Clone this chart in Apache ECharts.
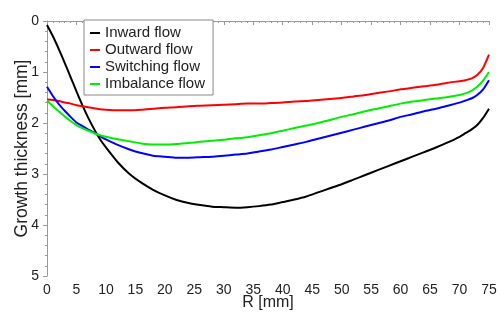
<!DOCTYPE html>
<html>
<head>
<meta charset="utf-8">
<script src="https://cdn.jsdelivr.net/npm/echarts@6/dist/echarts.min.js"></script>
<style>
  html, body { margin: 0; padding: 0; background: #fff; }
</style>
</head>
<body>
<!-- chart container, same size as the window -->
<div id="main" style="width: 500px;height:313px;"></div>
<script>
// R positions [mm] shared by every curve
var rValues = [0, 1, 2, 3, 4, 5, 6, 7, 8, 9, 10, 12, 14, 16, 18, 20, 22, 24, 26, 28, 30,
  32, 34, 36, 38, 40, 42, 44, 46, 48, 50, 52, 54, 56, 58, 60, 62, 64, 66, 68, 70, 71, 72, 73, 74, 75];

// growth thickness [mm]
var inwardFlow = [0.08, 0.3, 0.55, 0.82, 1.1, 1.38, 1.65, 1.9, 2.12, 2.32, 2.48, 2.77, 3.0, 3.17, 3.31, 3.42,
  3.51, 3.57, 3.61, 3.64, 3.65, 3.66, 3.65, 3.63, 3.6, 3.55, 3.5, 3.44, 3.36, 3.28, 3.2, 3.11, 3.02, 2.93,
  2.84, 2.75, 2.66, 2.57, 2.48, 2.38, 2.27, 2.2, 2.13, 2.04, 1.9, 1.72];
var outwardFlow = [1.54, 1.55, 1.57, 1.6, 1.62, 1.65, 1.67, 1.69, 1.71, 1.73, 1.74, 1.75, 1.75, 1.74, 1.72, 1.7,
  1.69, 1.67, 1.66, 1.65, 1.64, 1.63, 1.62, 1.62, 1.61, 1.6, 1.58, 1.57, 1.55, 1.53, 1.51, 1.48, 1.45, 1.41,
  1.38, 1.34, 1.31, 1.28, 1.25, 1.21, 1.18, 1.16, 1.13, 1.06, 0.92, 0.66];
var switchingFlow = [1.29, 1.47, 1.63, 1.76, 1.88, 1.99, 2.06, 2.13, 2.19, 2.26, 2.32, 2.43, 2.52, 2.59, 2.64, 2.66,
  2.68, 2.68, 2.67, 2.66, 2.64, 2.62, 2.6, 2.56, 2.52, 2.47, 2.42, 2.37, 2.31, 2.25, 2.19, 2.13, 2.07, 2.01,
  1.95, 1.88, 1.83, 1.77, 1.72, 1.66, 1.6, 1.56, 1.52, 1.45, 1.34, 1.16];
var imbalanceFlow = [1.56, 1.67, 1.77, 1.87, 1.96, 2.04, 2.1, 2.15, 2.2, 2.24, 2.27, 2.32, 2.36, 2.4, 2.42, 2.42,
  2.41, 2.39, 2.37, 2.35, 2.33, 2.3, 2.28, 2.24, 2.2, 2.15, 2.1, 2.05, 2.0, 1.94, 1.88, 1.83, 1.77, 1.72,
  1.67, 1.62, 1.58, 1.55, 1.52, 1.49, 1.45, 1.42, 1.37, 1.29, 1.17, 1.0];

var seriesNames = ['Inward flow', 'Outward flow', 'Switching flow', 'Imbalance flow'];
var seriesColors = ['#000000', '#ff0000', '#0000ff', '#00ee00'];
var seriesValues = [inwardFlow, outwardFlow, switchingFlow, imbalanceFlow];

function pairs(ys) {
  return rValues.map(function (r, i) { return [r, ys[i]]; });
}

var myChart = echarts.init(document.getElementById('main'));

var axisFont = 'Liberation Sans, Arial, sans-serif';

var option = {
  animation: false,
  backgroundColor: '#fff',
  grid: {
    left: 47,
    right: 11,
    top: 21,
    bottom: 37,
    outerBoundsMode: 'none',
    containLabel: false
  },
  //图例
  legend: {
    orient: 'vertical',
    left: 84,
    top: 20,
    backgroundColor: '#fff',
    borderColor: '#888',
    borderWidth: 1,
    borderRadius: 0,
    padding: [5, 8, 3, 6],
    itemGap: 1,
    itemWidth: 10,
    itemHeight: 2,
    icon: 'rect',
    textStyle: {
      fontFamily: axisFont,
      fontSize: 15,
      lineHeight: 16,
      color: '#222'
    },
    data: seriesNames
  },
  xAxis: {
    type: 'value',
    min: 0,
    max: 75,
    interval: 5,
    name: 'R [mm]',
    nameLocation: 'middle',
    nameGap: 19,
    nameMoveOverlap: false,
    nameTextStyle: { fontFamily: axisFont, fontSize: 16, color: '#222', verticalAlign: 'top' },
    axisLine: { lineStyle: { color: '#999', width: 1 } },
    axisTick: { show: true, length: 4, lineStyle: { color: '#999' } },
    minorTick: { show: true, splitNumber: 5, length: 2, lineStyle: { color: '#999' } },
    splitLine: { show: false },
    axisLabel: { fontFamily: axisFont, fontSize: 14, color: '#222', margin: 7 }
  },
  yAxis: {
    type: 'value',
    min: 0,
    max: 5,
    interval: 1,
    inverse: true,
    name: 'Growth thickness [mm]',
    nameLocation: 'middle',
    nameGap: 16,
    nameMoveOverlap: false,
    nameTextStyle: { fontFamily: axisFont, fontSize: 17.5, color: '#222' },
    axisLine: { show: true, lineStyle: { color: '#999', width: 1 } },
    axisTick: { show: true, length: 4, lineStyle: { color: '#999' } },
    minorTick: { show: true, splitNumber: 5, length: 2, lineStyle: { color: '#999' } },
    splitLine: { show: false },
    axisLabel: { fontFamily: axisFont, fontSize: 14, color: '#222', margin: 8 }
  },
  series: seriesNames.map(function (name, i) {
    return {
      name: name,
      type: 'line',
      data: pairs(seriesValues[i]),
      smooth: 0.2,
      showSymbol: false,
      color: seriesColors[i],
      lineStyle: { width: 2, color: seriesColors[i] }
    };
  })
};

myChart.setOption(option);
</script>
</body>
</html>
